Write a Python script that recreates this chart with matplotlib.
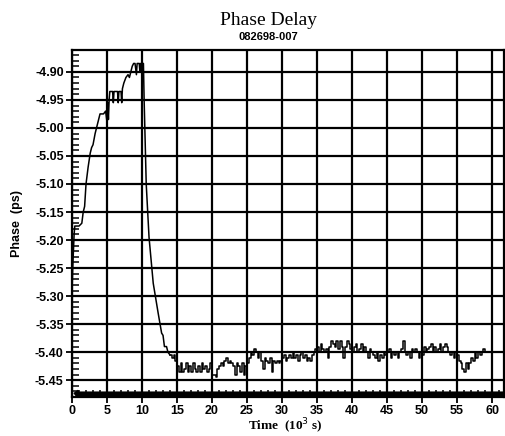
import numpy as np
import matplotlib.pyplot as plt
from matplotlib.ticker import MultipleLocator, FormatStrFormatter

# warm-up / drift part of the run (time in 10^3 s, phase in ps)
rise_t = [0.0, 0.1, 0.2, 0.3, 0.4, 0.6, 1.0, 1.4, 1.6, 1.8, 2.0, 2.3, 2.6, 2.8,
          3.0, 3.3, 3.5, 3.8, 4.0, 4.5, 4.8, 5.0, 5.1, 5.2, 5.3, 5.4, 5.8, 5.9,
          6.0, 6.5, 6.6, 6.7, 7.0, 7.1, 7.2, 7.4, 7.7, 8.0, 8.2, 8.4, 8.6, 8.8,
          9.0, 9.2, 9.3, 9.6, 9.7, 9.8, 10.2, 10.3, 10.6, 11.0, 11.6, 12.3,
          12.8, 13.0, 13.2, 13.5, 13.7, 14.0]
rise_v = [-5.29, -5.25, -5.22, -5.19, -5.175, -5.175, -5.175, -5.17, -5.15,
          -5.14, -5.10, -5.07, -5.045, -5.035, -5.03, -5.01, -5.00, -4.985,
          -4.975, -4.975, -4.97, -4.99, -4.955, -4.985, -4.95, -4.935, -4.935,
          -4.955, -4.935, -4.935, -4.955, -4.935, -4.935, -4.955, -4.93, -4.92,
          -4.91, -4.905, -4.91, -4.90, -4.89, -4.885, -4.885, -4.905, -4.885,
          -4.885, -4.90, -4.885, -4.885, -4.95, -5.10, -5.195, -5.277, -5.33,
          -5.366, -5.37, -5.39, -5.39, -5.40, -5.405]

# settled part, sampled every 0.25e3 s from 14e3 s
settled_t = np.arange(14.0, 59.5, 0.25)
settled_v = [
    -5.405, -5.41, -5.405, -5.415, -5.425, -5.435, -5.42, -5.435,
    -5.43, -5.42, -5.435, -5.425, -5.435, -5.42, -5.43, -5.435,
    -5.425, -5.435, -5.42, -5.43, -5.425, -5.435, -5.43, -5.42,
    -5.44, -5.44, -5.445, -5.43, -5.425, -5.42, -5.425, -5.415,
    -5.41, -5.42, -5.415, -5.42, -5.425, -5.44, -5.42, -5.425,
    -5.435, -5.42, -5.44, -5.425, -5.42, -5.41, -5.40, -5.405,
    -5.395, -5.40, -5.41, -5.40, -5.415, -5.43, -5.41, -5.415,
    -5.42, -5.41, -5.435, -5.415, -5.42, -5.415, -5.42, -5.415,
    -5.41, -5.405, -5.415, -5.41, -5.405, -5.41, -5.40, -5.41,
    -5.405, -5.415, -5.405, -5.40, -5.41, -5.405, -5.415, -5.41,
    -5.415, -5.405, -5.40, -5.395, -5.39, -5.40, -5.385, -5.395,
    -5.40, -5.395, -5.41, -5.39, -5.38, -5.385, -5.39, -5.38,
    -5.395, -5.38, -5.39, -5.41, -5.39, -5.38, -5.385, -5.395,
    -5.40, -5.39, -5.385, -5.40, -5.395, -5.385, -5.40, -5.39,
    -5.40, -5.41, -5.395, -5.40, -5.405, -5.41, -5.40, -5.415,
    -5.405, -5.41, -5.40, -5.405, -5.40, -5.395, -5.41, -5.40,
    -5.405, -5.40, -5.41, -5.40, -5.395, -5.38, -5.40, -5.405,
    -5.40, -5.41, -5.395, -5.40, -5.395, -5.40, -5.41, -5.40,
    -5.405, -5.39, -5.40, -5.395, -5.39, -5.385, -5.40, -5.39,
    -5.40, -5.395, -5.385, -5.40, -5.39, -5.385, -5.39, -5.40,
    -5.405, -5.40, -5.41, -5.40, -5.405, -5.415, -5.42, -5.43,
    -5.435, -5.42, -5.43, -5.42, -5.41, -5.415, -5.40, -5.41,
    -5.40, -5.405, -5.40, -5.395, -5.40, -5.40]

# second (pinned) trace along the bottom of the plot
base_t = [0.5, 0.8, 61.7]
base_v = [-5.470, -5.475, -5.475]

fig = plt.figure(figsize=(5.05, 4.36), dpi=100)
ax = fig.add_axes([0.1426, 0.0894, 0.998 - 0.1426, 0.8853 - 0.0894])

ax.plot(rise_t, rise_v, color='black', lw=1.1)
ax.plot(settled_t, settled_v, color='black', lw=1.1, drawstyle='steps-post')
ax.plot(base_t, base_v, color='black', lw=4, solid_capstyle='butt')

ax.set_xlim(0, 61.7)
ax.set_ylim(-5.480, -4.861)

ax.xaxis.set_major_locator(MultipleLocator(5))
ax.xaxis.set_minor_locator(MultipleLocator(1))
ax.yaxis.set_major_locator(MultipleLocator(0.05))
ax.yaxis.set_minor_locator(MultipleLocator(0.01))
ax.yaxis.set_major_formatter(FormatStrFormatter('%.2f'))

ax.grid(True, which='major', color='black', lw=1.6)
ax.set_axisbelow(True)
for s in ax.spines.values():
    s.set_linewidth(1.6)
ax.tick_params(which='major', direction='out', length=4, width=1.3, pad=2)
ax.tick_params(which='minor', direction='in', length=5, width=1.1)
ax.tick_params(axis='x', which='minor', top=False)
ax.tick_params(axis='y', which='minor', right=False)

for lab in ax.get_xticklabels() + ax.get_yticklabels():
    lab.set_fontfamily('Liberation Sans')
    lab.set_fontweight('bold')
    lab.set_fontsize(9)

ax.set_ylabel('Phase  (ps)', fontfamily='Liberation Sans', fontweight='bold',
              fontsize=9, va='center')
ax.yaxis.set_label_coords(-0.128, 0.5)
ax.set_xlabel('Time  (10$^3$ s)', fontfamily='Liberation Serif',
              fontweight='bold', fontsize=9.5, va='center')
ax.xaxis.set_label_coords(0.493, -0.086)

fig.text(0.532, 0.953, 'Phase Delay', ha='center', va='center',
         fontfamily='Liberation Serif', fontsize=14)
fig.text(0.532, 0.916, '082698-007', ha='center', va='center',
         fontfamily='Liberation Sans', fontweight='bold', fontsize=8)

fig.savefig('out.png', dpi=100)
